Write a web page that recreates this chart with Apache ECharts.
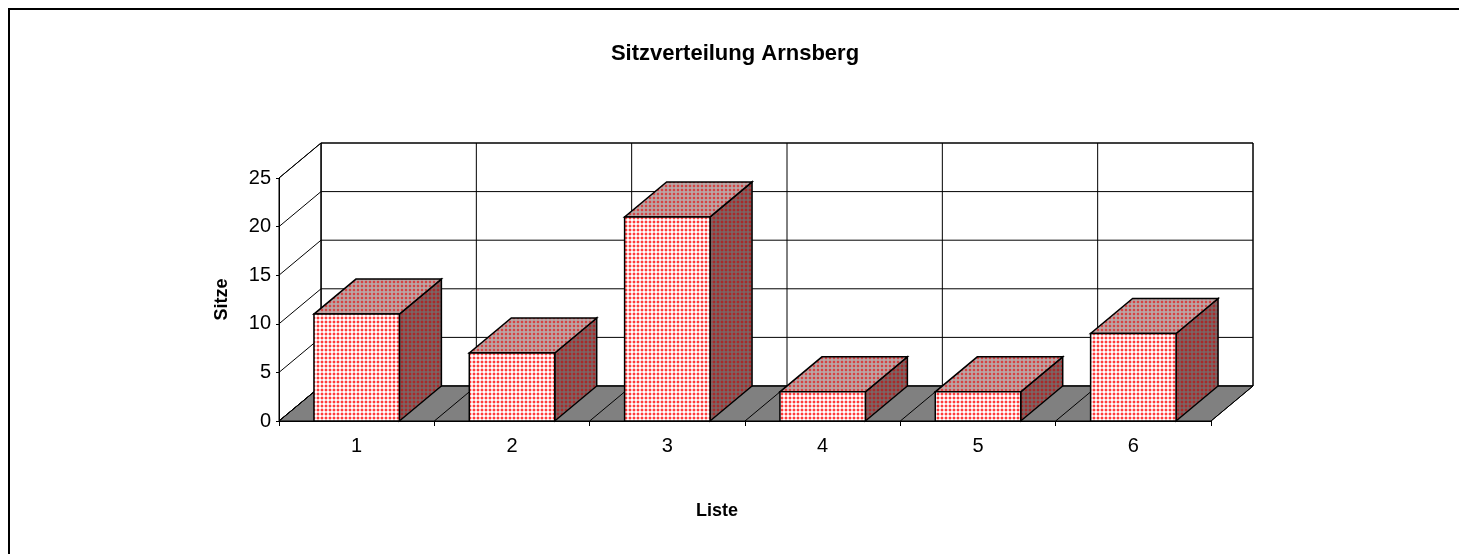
<!DOCTYPE html>
<html>
<head>
<meta charset="utf-8">
<script src="https://cdn.jsdelivr.net/npm/echarts@6/dist/echarts.min.js"></script>
<style>
html,body{margin:0;padding:0;background:#fff;}
#chart{width:1459px;height:554px;}
</style>
</head>
<body>
<div id="chart"></div>
<script>
// ---- data ----
const categories = ['1', '2', '3', '4', '5', '6'];
const seats = [11, 7, 21, 3, 3, 9];
const yTicks = [0, 5, 10, 15, 20, 25];
const titleText = 'Sitzverteilung Arnsberg';
const xName = 'Liste';
const yName = 'Sitze';

// ---- style constants ----
const DX = 42, DY = -35;     // 3D depth offset
const FONT = 'Liberation Sans, Arial, sans-serif';

function makePattern(bg, ring, dot) {
  const c = document.createElement('canvas');
  c.width = 4; c.height = 4;
  const g = c.getContext('2d');
  g.fillStyle = bg; g.fillRect(0, 0, 4, 4);
  g.fillStyle = ring; g.fillRect(0, 1, 4, 2); g.fillRect(1, 0, 2, 4);
  g.fillStyle = dot; g.fillRect(1, 1, 2, 2);
  return { image: c, repeat: 'repeat' };
}
const frontPat = makePattern('#ffffff', '#ffc4c4', '#ff3a3a');
const topPat = makePattern('#b8a8a8', '#c09494', '#d44444');
const sidePat = makePattern('#7a6666', '#885454', '#a82a2a');

const chart = echarts.init(document.getElementById('chart'), null, { renderer: 'canvas' });

function wallsItem(params, api) {
  const cs = params.coordSys;
  const x0 = cs.x, x1 = cs.x + cs.width, yb = cs.y + cs.height, yt = cs.y;
  return {
    type: 'group',
    children: [
      { type: 'polygon', shape: { points: [[x0 + DX, yt + DY], [x1 + DX, yt + DY], [x1 + DX, yb + DY], [x0 + DX, yb + DY]] },
        style: { fill: '#ffffff', stroke: '#000', lineWidth: 1 } },
      { type: 'polygon', shape: { points: [[x0, yt], [x0 + DX, yt + DY], [x0 + DX, yb + DY], [x0, yb]] },
        style: { fill: '#ffffff', stroke: '#000', lineWidth: 1 } },
      { type: 'polygon', shape: { points: [[x0, yb], [x1, yb], [x1 + DX, yb + DY], [x0 + DX, yb + DY]] },
        style: { fill: '#808080', stroke: '#000', lineWidth: 1 } }
    ]
  };
}

function yGridItem(params, api) {
  const cs = params.coordSys;
  const x0 = cs.x, x1 = cs.x + cs.width;
  const y = api.coord([0, api.value(0)])[1];
  return {
    type: 'group',
    children: [
      { type: 'line', shape: { x1: x0 + DX, y1: y + DY, x2: x1 + DX, y2: y + DY }, style: { stroke: '#000', lineWidth: 1 } },
      { type: 'line', shape: { x1: x0, y1: y, x2: x0 + DX, y2: y + DY }, style: { stroke: '#000', lineWidth: 1 } }
    ]
  };
}

function xGridItem(params, api) {
  const cs = params.coordSys;
  const band = api.size([1, 0])[0];
  const i = api.value(0);
  const x = api.coord([0, 0])[0] - band / 2 + i * band;
  const yb = cs.y + cs.height, yt = cs.y;
  return {
    type: 'group',
    children: [
      { type: 'line', shape: { x1: x + DX, y1: yb + DY, x2: x + DX, y2: yt + DY }, style: { stroke: '#000', lineWidth: 1 } },
      { type: 'line', shape: { x1: x, y1: yb, x2: x + DX, y2: yb + DY }, style: { stroke: '#000', lineWidth: 1 } }
    ]
  };
}

function barItem(params, api) {
  const idx = api.value(0);
  const v = api.value(1);
  const base = api.coord([idx, 0]);
  const top = api.coord([idx, v]);
  const w = api.size([1, 0])[0] * 0.55;
  const xl = base[0] - w / 2, xr = base[0] + w / 2;
  const yb = base[1], yt = top[1];
  const stroke = { stroke: '#000', lineWidth: 1.5, lineJoin: 'miter' };
  return {
    type: 'group',
    children: [
      { type: 'polygon', shape: { points: [[xr, yt], [xr + DX, yt + DY], [xr + DX, yb + DY], [xr, yb]] },
        style: Object.assign({ fill: sidePat }, stroke) },
      { type: 'polygon', shape: { points: [[xl, yt], [xr, yt], [xr + DX, yt + DY], [xl + DX, yt + DY]] },
        style: Object.assign({ fill: topPat }, stroke) },
      { type: 'polygon', shape: { points: [[xl, yt], [xr, yt], [xr, yb], [xl, yb]] },
        style: Object.assign({ fill: frontPat }, stroke) }
    ]
  };
}

const option = {
  backgroundColor: '#ffffff',
  animation: false,
  title: {
    text: titleText,
    left: 730, top: 38, textAlign: 'center',
    textStyle: { fontFamily: FONT, fontWeight: 'bold', fontSize: 22, color: '#000' }
  },
  graphic: [
    { type: 'rect', shape: { x: 9, y: 9, width: 1600, height: 700 }, style: { fill: 'none', stroke: '#000', lineWidth: 2 }, silent: true, z: 100 }
  ],
  grid: { left: 279, right: 248, top: 178, bottom: 133 },
  xAxis: {
    type: 'category',
    data: categories,
    boundaryGap: true,
    name: xName,
    nameLocation: 'middle',
    nameGap: 81,
    nameTextStyle: { fontFamily: FONT, fontWeight: 'bold', fontSize: 18, color: '#000', padding: [0, 56, 0, 0] },
    axisLine: { show: true, lineStyle: { color: '#000', width: 1 } },
    axisTick: { show: true, alignWithLabel: false, length: 5, lineStyle: { color: '#000' } },
    axisLabel: { fontFamily: FONT, fontSize: 20, color: '#000', margin: 15 },
    splitLine: { show: false },
    z: 10
  },
  yAxis: {
    type: 'value',
    min: 0, max: 25, interval: 5,
    name: yName,
    nameLocation: 'middle',
    nameRotate: 90,
    nameGap: 48,
    nameTextStyle: { fontFamily: FONT, fontWeight: 'bold', fontSize: 18, color: '#000' },
    axisLine: { show: true, lineStyle: { color: '#000', width: 1 } },
    axisTick: { show: true, length: 3, lineStyle: { color: '#000' } },
    axisLabel: { fontFamily: FONT, fontSize: 20, color: '#000', margin: 8 },
    splitLine: { show: false },
    z: 10
  },
  series: [
    { type: 'custom', name: 'walls', renderItem: wallsItem, data: [[0]], silent: true, clip: false, z: 1 },
    { type: 'custom', name: 'ygrid', renderItem: yGridItem, data: yTicks.map(v => [v]), silent: true, clip: false, z: 2 },
    { type: 'custom', name: 'xgrid', renderItem: xGridItem, data: categories.map((c, i) => [i]).concat([[categories.length]]), silent: true, clip: false, z: 2 },
    { type: 'custom', name: 'Sitze', renderItem: barItem, data: seats.map((v, i) => [i, v]), clip: false, z: 3 }
  ]
};
chart.setOption(option);
</script>
</body>
</html>
